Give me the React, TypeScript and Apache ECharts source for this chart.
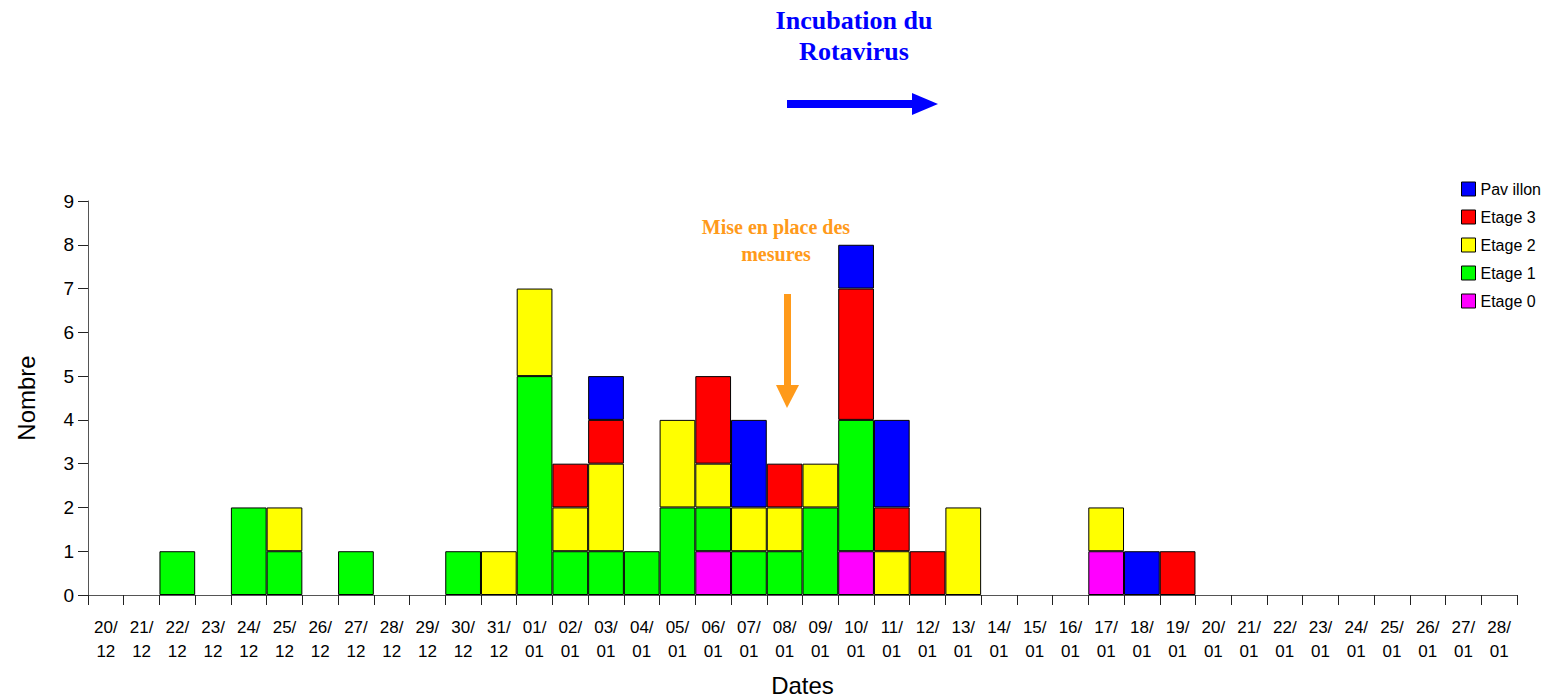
import React, { useEffect, useRef } from "react";
import * as echarts from "echarts";

const categories = [
  "20/12","21/12","22/12","23/12","24/12","25/12","26/12","27/12","28/12","29/12","30/12","31/12",
  "01/01","02/01","03/01","04/01","05/01","06/01","07/01","08/01","09/01","10/01","11/01","12/01",
  "13/01","14/01","15/01","16/01","17/01","18/01","19/01","20/01","21/01","22/01","23/01","24/01",
  "25/01","26/01","27/01","28/01",
];
//                20 21 22 23 24 25 26 27 28 29 30 31 01 02 03 04 05 06 07 08 09 10 11 12 13 14 15 16 17 18 19 20 21 22 23 24 25 26 27 28
const etage0 =   [0, 0, 0, 0, 0, 0, 0, 0, 0, 0, 0, 0, 0, 0, 0, 0, 0, 1, 0, 0, 0, 1, 0, 0, 0, 0, 0, 0, 1, 0, 0, 0, 0, 0, 0, 0, 0, 0, 0, 0];
const etage1 =   [0, 0, 1, 0, 2, 1, 0, 1, 0, 0, 1, 0, 5, 1, 1, 1, 2, 1, 1, 1, 2, 3, 0, 0, 0, 0, 0, 0, 0, 0, 0, 0, 0, 0, 0, 0, 0, 0, 0, 0];
const etage2 =   [0, 0, 0, 0, 0, 1, 0, 0, 0, 0, 0, 1, 2, 1, 2, 0, 2, 1, 1, 1, 1, 0, 1, 0, 2, 0, 0, 0, 1, 0, 0, 0, 0, 0, 0, 0, 0, 0, 0, 0];
const etage3 =   [0, 0, 0, 0, 0, 0, 0, 0, 0, 0, 0, 0, 0, 1, 1, 0, 0, 2, 0, 1, 0, 3, 1, 1, 0, 0, 0, 0, 0, 0, 1, 0, 0, 0, 0, 0, 0, 0, 0, 0];
const pavillon = [0, 0, 0, 0, 0, 0, 0, 0, 0, 0, 0, 0, 0, 0, 1, 0, 0, 0, 2, 0, 0, 1, 2, 0, 0, 0, 0, 0, 0, 1, 0, 0, 0, 0, 0, 0, 0, 0, 0, 0];

const seriesDefs = [
  { name: "Etage 0", data: etage0, color: "#ff00ff" },
  { name: "Etage 1", data: etage1, color: "#00ff00" },
  { name: "Etage 2", data: etage2, color: "#ffff00" },
  { name: "Etage 3", data: etage3, color: "#ff0000" },
  { name: "Pav illon", data: pavillon, color: "#0000ff" },
];
const legendOrder = ["Pav illon", "Etage 3", "Etage 2", "Etage 1", "Etage 0"];

export default function App() {
  const ref = useRef<HTMLDivElement>(null);
  useEffect(() => {
    if (!ref.current) return;
    const chart = echarts.init(ref.current, undefined, { renderer: "svg" });
    const sans = "Liberation Sans, Arial, sans-serif";
    const serif = "Liberation Serif, Times New Roman, serif";
    chart.setOption({
      animation: false,
      backgroundColor: "#ffffff",
      grid: { left: 88, right: 42, top: 201, bottom: 104, outerBoundsMode: "none", containLabel: false },
      legend: {
        orient: "vertical",
        left: 1456,
        top: 176,
        itemWidth: 14,
        itemHeight: 14,
        itemGap: 12,
        itemTextGap: 6,
        icon: "rect",
        data: legendOrder,
        textStyle: { fontFamily: sans, fontSize: 16, color: "#000" },
        itemStyle: { borderColor: "#000", borderWidth: 1 },
      },
      xAxis: {
        type: "category",
        data: categories,
        boundaryGap: true,
        name: "Dates",
        nameLocation: "middle",
        nameGap: 78,
        nameTextStyle: { fontFamily: sans, fontSize: 24, color: "#000" },
        axisLine: { lineStyle: { color: "#555", width: 1 } },
        axisTick: { show: true, length: 10, lineStyle: { color: "#222" } },
        axisLabel: {
          interval: 0,
          margin: 20,
          fontFamily: sans,
          fontSize: 17,
          lineHeight: 24,
          color: "#000",
          formatter: (v: string) => v.replace("/", "/\n"),
        },
        splitLine: { show: false },
      },
      yAxis: {
        type: "value",
        min: 0,
        max: 9,
        interval: 1,
        name: "Nombre",
        nameLocation: "middle",
        nameGap: 50,
        nameTextStyle: { fontFamily: sans, fontSize: 24, color: "#000" },
        axisLine: { show: true, lineStyle: { color: "#555", width: 1 } },
        axisTick: { show: true, length: 10, lineStyle: { color: "#222" } },
        axisLabel: { fontFamily: sans, fontSize: 19, color: "#000", margin: 14 },
        splitLine: { show: false },
      },
      series: seriesDefs.map((s) => ({
        name: s.name,
        type: "bar",
        stack: "total",
        barCategoryGap: "0%",
        data: s.data.map((v) => (v === 0 ? null : v)),
        itemStyle: { color: s.color, borderColor: "#000", borderWidth: 1 },
      })),
      graphic: [
        {
          type: "text",
          style: {
            text: "Incubation du\nRotavirus",
            fill: "#0000ff",
            font: `bold 26px ${serif}`,
            align: "center",
            verticalAlign: "top",
            lineHeight: 31,
            x: 854,
            y: 5,
          },
        },
        { type: "rect", shape: { x: 787, y: 100, width: 128, height: 8 }, style: { fill: "#0000ff" } },
        { type: "polygon", shape: { points: [[912, 93], [938, 104], [912, 115]] }, style: { fill: "#0000ff" } },
        {
          type: "text",
          style: {
            text: "Mise en place des\nmesures",
            fill: "#ff9a1a",
            font: `bold 20px ${serif}`,
            align: "center",
            verticalAlign: "top",
            lineHeight: 27,
            x: 776,
            y: 213,
          },
        },
        { type: "rect", shape: { x: 784, y: 294, width: 7, height: 94 }, style: { fill: "#ff9a1a" } },
        { type: "polygon", shape: { points: [[776, 385], [799, 385], [787, 408]] }, style: { fill: "#ff9a1a" } },
      ],
    });
    return () => chart.dispose();
  }, []);
  return (
    <div
      ref={ref}
      style={{ position: "absolute", left: 0, top: 0, width: 1559, height: 699, background: "#fff" }}
    />
  );
}
